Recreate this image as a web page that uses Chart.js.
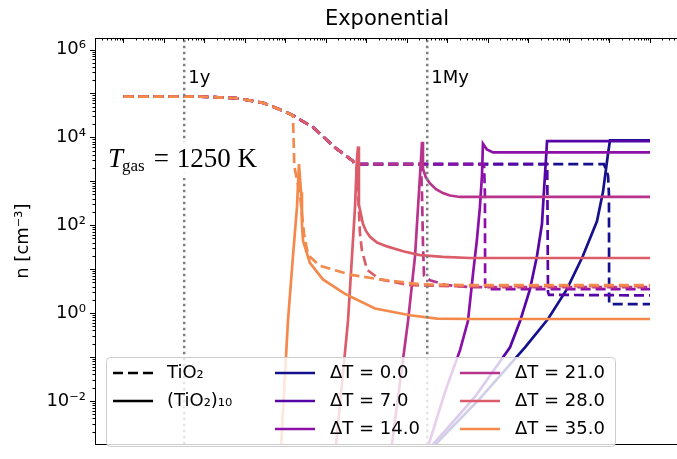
<!DOCTYPE html>
<html>
<head>
<meta charset="utf-8">
<script src="https://cdn.jsdelivr.net/npm/chart.js@4.4.1/dist/chart.umd.min.js"></script>
<style>
  html, body { margin: 0; padding: 0; background: #fff; overflow: hidden; }
  #wrap { position: relative; width: 690px; height: 459px; }
</style>
</head>
<body>
<div id="wrap"><canvas id="chart" width="690" height="459"></canvas></div>
<script>
// temperature offsets, one TiO2 / (TiO2)10 pair each
const deltaT = [0.0, 7.0, 14.0, 21.0, 28.0, 35.0];
const lineColors = ['#15118c', '#5605a6', '#8c10a8', '#b8338c', '#dc5d6a', '#f38a4c'];

// axis limits (time in s, density in cm^-3)
const xMin = 1.98e5, xMax = 5.2e19;
const yMin = 1.03e-3, yMax = 1.83e6;

// vertical time marks
const markTimes = [3.156e7, 3.156e13];
const markLabels = ['1y', '1My'];

// TiO2 before condensation, same for every run
const tio2HeadT = [1e6, 7.8e7, 6.0e8, 2.8e9, 8.7e9, 1.53e10];
const tio2HeadN = [8.45e4, 8.45e4, 7.8e4, 6.1e4, 4.05e4, 3.14e4];
const tio2MidT = [4.8e10, 1.77e11, 4.6e11];
const tio2MidN = [1.7e4, 5.6e3, 2.9e3];
const tio2FlatT = [5.2e11];
const tio2FlatN = [2.47e3];

// dT = 35
const tio2T35 = [1.65e10, 2.28e10, 2.87e10, 3.6e10, 7.1e10, 3.9e11, 2.15e12, 2.1e13, 3.6e14, 1e19];
const tio2N35 = [2.2e3, 486, 64, 20.8, 11.9, 7.5, 5.83, 4.53, 4.3, 4.3];
const clusT35 = [7.7e9, 1.15e10, 1.53e10, 1.92e10, 2.15e10, 2.42e10, 2.55e10, 2.7e10, 4.0e10, 8.4e10, 2.95e11, 1.62e12, 1.19e13, 5.5e13, 3.6e14, 1e19];
const clusN35 = [8e-4, 0.656, 19.8, 251, 2.47e3, 566, 106, 44.6, 13.8, 5.83, 2.72, 1.27, 0.89, 0.745, 0.73, 0.73];

// dT = 28
const tio2T28 = [5.6e11, 6.4e11, 6.9e11, 7.7e11, 1.03e12, 2.15e12, 1.19e13, 1.15e14, 1e19];
const tio2N28 = [2.4e3, 300, 64, 26.8, 9.7, 5.83, 4.3, 4.09, 4.09];
const clusT28 = [1.73e11, 3.49e11, 4.39e11, 5.2e11, 5.8e11, 6.2e11, 6.5e11, 8.2e11, 9.7e11, 1.22e12, 1.82e12, 3.2e12, 8e12, 2.1e13, 7.7e13, 3.6e14, 1e19];
const clusN28 = [8e-4, 0.656, 19.8, 251, 3.2e3, 6.2e3, 292, 106, 74, 54.6, 40.3, 32.9, 25.5, 20.8, 18.9, 17.9, 17.9];

// dT = 21
const tio2T21 = [2.22e13, 2.35e13, 2.48e13, 2.63e13, 3.7e13, 9.7e13, 3.6e14, 1e19];
const tio2N21 = [2.47e3, 486, 38.3, 7.15, 5.55, 4.3, 3.9, 3.9];
const clusT21 = [4.1e12, 1.06e13, 1.58e13, 1.87e13, 2.22e13, 2.35e13, 2.48e13, 2.94e13, 3.7e13, 5.2e13, 7.7e13, 1.15e14, 2.04e14, 1e19];
const clusN21 = [8e-4, 0.656, 19.8, 251, 3.2e3, 7.95e3, 1.92e3, 1.21e3, 894, 659, 538, 474, 439, 439];

// dT = 14
const tio2T14 = [8e14, 8.4e14, 8.5e14, 9.4e14, 1e19];
const tio2N14 = [2.47e3, 486, 4.3, 3.5, 3.5];
const clusT14 = [2.94e13, 3.7e13, 8.7e13, 2.04e14, 3.2e14, 4.3e14, 5.3e14, 6.3e14, 7.1e14, 7.5e14, 9.4e14, 1.33e15, 1e19];
const clusN14 = [7.6e-4, 1.26e-3, 0.016, 0.143, 0.656, 8.3, 44.6, 251, 1.34e3, 7.2e3, 5.3e3, 4.55e3, 4.55e3];

// dT = 7
const tio2T7 = [2.9e16, 3.03e16, 3.2e16, 1e19];
const tio2N7 = [2.47e3, 3.0, 2.59, 2.52];
const clusT7 = [3.5e13, 4.8e14, 3.5e15, 6.2e15, 1.09e16, 1.62e16, 2.15e16, 2.4e16, 2.7e16, 2.87e16, 1e19];
const clusN7 = [8e-4, 0.0124, 0.166, 0.656, 3.5, 19.8, 106, 566, 3.2e3, 8.2e3, 8.2e3];

// dT = 0
const tio2T0 = [7.3e17, 9.2e17, 9.7e17, 9.8e17, 1.09e18, 1e19];
const tio2N0 = [2.47e3, 1.34e3, 486, 1.6, 1.6, 1.6];
const clusT0 = [3.9e13, 6.3e14, 8.2e15, 3.03e16, 8.9e16, 2.2e17, 4.9e17, 6.9e17, 9.2e17, 1.03e18, 1e19];
const clusN0 = [8e-4, 0.0112, 0.166, 0.73, 3.5, 19.8, 123, 566, 4.3e3, 8.6e3, 8.6e3];

// full TiO2 curves
function tio2Curve(tailT, tailN, skip) {
    let t = tio2HeadT.slice(), n = tio2HeadN.slice();
    if (skip < 1) { t = t.concat(tio2MidT); n = n.concat(tio2MidN); }
    if (skip < 1 && tailT[0] > 5.3e11) { t = t.concat(tio2FlatT); n = n.concat(tio2FlatN); }
    return { t: t.concat(tailT), n: n.concat(tailN) };
}

const runs = [
    { tio2: tio2Curve(tio2T0, tio2N0, 0), clusT: clusT0, clusN: clusN0 },
    { tio2: tio2Curve(tio2T7, tio2N7, 0), clusT: clusT7, clusN: clusN7 },
    { tio2: tio2Curve(tio2T14, tio2N14, 0), clusT: clusT14, clusN: clusN14 },
    { tio2: tio2Curve(tio2T21, tio2N21, 0), clusT: clusT21, clusN: clusN21 },
    { tio2: tio2Curve(tio2T28, tio2N28, 0), clusT: clusT28, clusN: clusN28 },
    { tio2: tio2Curve(tio2T35, tio2N35, 1), clusT: clusT35, clusN: clusN35 }
];

function toPoints(t, n) {
    return t.map((v, i) => ({ x: v, y: n[i] }));
}

// dataset 0 is drawn on top, so marks first, then dT = 35 down to 0
const datasets = [];
markTimes.forEach(t => {
    datasets.push({
        data: [{ x: t, y: yMin }, { x: t, y: yMax }],
        borderColor: '#7f7f7f',
        borderWidth: 2.5,
        borderDash: [2.5, 3.5],
        borderCapStyle: 'butt'
    });
});
for (let i = runs.length - 1; i >= 0; i--) {
    datasets.push({
        data: toPoints(runs[i].tio2.t, runs[i].tio2.n),
        borderColor: lineColors[i],
        borderWidth: 2.7,
        borderDash: [10, 5],
        borderCapStyle: 'butt'
    });
    datasets.push({
        data: toPoints(runs[i].clusT, runs[i].clusN),
        borderColor: lineColors[i],
        borderWidth: 2.7
    });
}
datasets.forEach(d => { d.showLine = true; d.pointRadius = 0; d.clip = 0; d.fill = false; });

const SANS = '"DejaVu Sans", sans-serif';

// Title, labels, legend, tick marks
const overlay = {
    id: 'overlay',
    afterDatasetsDraw(chart) {
        const { ctx, chartArea, scales } = chart;
        ctx.save();
        ctx.fillStyle = '#000';

        // time mark labels
        ctx.font = '18px ' + SANS;
        ctx.textBaseline = 'alphabetic';
        ctx.textAlign = 'left';
        markTimes.forEach((t, i) => {
            ctx.fillText(markLabels[i], scales.x.getPixelForValue(t) + 4, 83);
        });

        // T_gas box
        ctx.fillStyle = 'rgba(255,255,255,0.95)';
        ctx.fillRect(106, 142, 156, 36);
        ctx.fillStyle = '#000';
        let x = 108;
        ctx.font = 'italic 27px "Liberation Serif", serif';
        ctx.fillText('T', x, 167);
        x += ctx.measureText('T').width - 1;
        ctx.font = '17px "Liberation Serif", serif';
        ctx.fillText('gas', x, 171);
        x += ctx.measureText('gas').width;
        ctx.font = '27px "Liberation Serif", serif';
        ctx.fillText('=', x + 9, 167);
        ctx.fillText('1250 K', x + 32, 167);

        // legend
        const bx = 106.5, by = 357.5, bw = 509, bh = 89;
        ctx.beginPath();
        ctx.roundRect(bx, by, bw, bh, 4);
        ctx.fillStyle = 'rgba(255,255,255,0.8)';
        ctx.fill();
        ctx.strokeStyle = '#cccccc';
        ctx.lineWidth = 1;
        ctx.stroke();

        ctx.font = '18px ' + SANS;
        ctx.textBaseline = 'middle';
        ctx.lineWidth = 2.7;
        function sample(x0, y, color, dash) {
            ctx.strokeStyle = color;
            ctx.setLineDash(dash);
            ctx.beginPath();
            ctx.moveTo(x0, y);
            ctx.lineTo(x0 + 40, y);
            ctx.stroke();
            ctx.setLineDash([]);
        }
        const rowY = [373, 401, 429];
        sample(113, rowY[0], '#000', [10, 5]);
        sample(113, rowY[1], '#000', []);
        ctx.fillStyle = '#000';
        ctx.fillText('TiO\u2082', 167, rowY[0]);
        ctx.fillText('(TiO\u2082)\u2081\u2080', 167, rowY[1]);
        deltaT.forEach((d, i) => {
            const col = i < 3 ? 0 : 1;
            const row = i % 3;
            const sx = col === 0 ? 275 : 460;
            sample(sx, rowY[row], lineColors[i], []);
            ctx.fillStyle = '#000';
            ctx.fillText('\u0394T = ' + d.toFixed(1), sx + 55, rowY[row]);
        });
        ctx.restore();
    },
    afterDraw(chart) {
        const { ctx, chartArea, scales } = chart;
        ctx.save();
        ctx.strokeStyle = '#000';
        ctx.lineWidth = 1;
        // top spine
        ctx.beginPath();
        ctx.moveTo(chartArea.left, chartArea.top + 0.5);
        ctx.lineTo(chartArea.right, chartArea.top + 0.5);
        ctx.stroke();
        // log tick marks
        ctx.beginPath();
        for (let e = -3; e <= 6; e++) {
            for (let m = 1; m <= 9; m++) {
                const v = m * Math.pow(10, e);
                if (v < yMin || v > yMax) continue;
                const py = Math.round(scales.y.getPixelForValue(v)) + 0.5;
                const len = m === 1 ? 5 : 2.5;
                ctx.moveTo(chartArea.left - len, py);
                ctx.lineTo(chartArea.left, py);
            }
        }
        for (let e = 5; e <= 19; e++) {
            for (let m = 1; m <= 9; m++) {
                const v = m * Math.pow(10, e);
                if (v < xMin || v > xMax) continue;
                const px = Math.round(scales.x.getPixelForValue(v)) + 0.5;
                const len = m === 1 ? 5 : 2.5;
                ctx.moveTo(px, chartArea.top);
                ctx.lineTo(px, chartArea.top + len);
            }
        }
        ctx.stroke();
        // title
        ctx.fillStyle = '#000';
        ctx.font = '21px ' + SANS;
        ctx.textAlign = 'center';
        ctx.textBaseline = 'alphabetic';
        ctx.fillText('Exponential', (chartArea.left + chartArea.right) / 2, 25);
        ctx.restore();
    }
};

const supers = { '-': '\u207b', '0': '\u2070', '2': '\u00b2', '4': '\u2074', '6': '\u2076' };
function powerLabel(value) {
    const e = Math.log10(value);
    const r = Math.round(e);
    if (Math.abs(e - r) > 1e-6 || r % 2 !== 0) return '';
    return '10' + String(r).split('').map(c => supers[c]).join('');
}

new Chart(document.getElementById('chart'), {
    type: 'scatter',
    data: { datasets: datasets },
    options: {
        responsive: false,
        animation: false,
        devicePixelRatio: 1,
        layout: { padding: { top: 38, right: 11, bottom: 0, left: 0 } },
        plugins: {
            legend: { display: false },
            tooltip: { enabled: false },
            title: { display: false }
        },
        scales: {
            x: {
                type: 'logarithmic',
                min: xMin,
                max: xMax,
                ticks: { display: false },
                grid: { display: false, drawTicks: false },
                border: { display: true, color: '#000', width: 1 },
                afterFit: s => { s.height = 2; }
            },
            y: {
                type: 'logarithmic',
                position: 'left',
                min: yMin,
                max: yMax,
                ticks: {
                    autoSkip: false,
                    padding: 4,
                    color: '#000',
                    font: { family: SANS, size: 18 },
                    callback: v => powerLabel(v)
                },
                grid: { display: false, drawTicks: true, tickLength: 5 },
                border: { display: true, color: '#000', width: 1 },
                title: {
                    display: true,
                    text: 'n [cm\u207b\u00b3]',
                    color: '#000',
                    font: { family: SANS, size: 18 },
                    padding: { top: 13, bottom: 0 }
                },
                afterFit: s => { s.width = 95; }
            }
        }
    },
    plugins: [overlay]
});
</script>
</body>
</html>
